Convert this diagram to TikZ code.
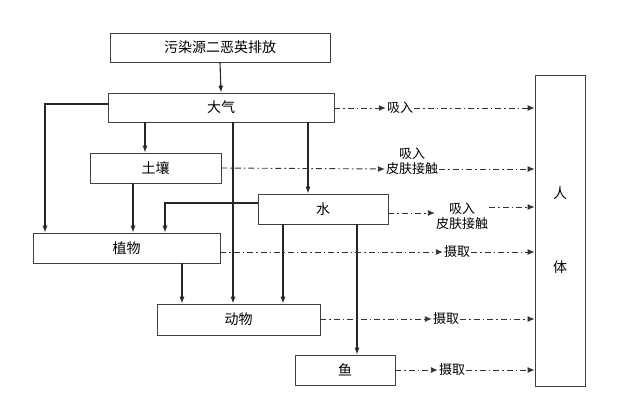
\documentclass[tikz,border=0pt]{standalone}
\usepackage{fontspec}
\newfontfamily\cjk{Noto Sans CJK SC}
\usetikzlibrary{arrows.meta}
\begin{document}
\begin{tikzpicture}[x=1pt,y=-1pt,
  box/.style={draw=black!75,line width=0.8pt,inner sep=0pt,font=\cjk\fontsize{14}{14}\selectfont},
  lab/.style={inner sep=1pt,font=\cjk\fontsize{13}{15}\selectfont,align=center},
  arr/.style={-{Latex[length=7pt,width=5pt]},line width=1.1pt,black!85},
  dd/.style={-{Latex[length=7pt,width=6pt]},dash pattern=on 6pt off 3pt on 1.5pt off 3pt,line width=0.9pt,black!80}]
\useasboundingbox (0,0) rectangle (640,400);
\node[box,minimum width=220,minimum height=29] (src) at (220,47.5) {污染源二恶英排放};
\node[box,minimum width=226,minimum height=29] (air) at (221,107.5) {大气};
\node[box,minimum width=131,minimum height=30] (soil) at (155.5,168) {土壤};
\node[box,minimum width=130,minimum height=30] (water) at (323,209) {水};
\node[box,minimum width=187,minimum height=30] (plant) at (126.5,248) {植物};
\node[box,minimum width=163,minimum height=31] (animal) at (238.5,319.5) {动物};
\node[box,minimum width=100,minimum height=30] (fish) at (345,370) {鱼};
\node[box,minimum width=50,minimum height=311,align=center] (human) at (560,230.5) {人\\[60pt]体};
% solid
\draw[arr] (src.south) -- (air.north);
\draw[arr] (air.west |- 0,104) -| (plant.north -| 45,0);
\draw[arr] (air.south -| 145,0) -- (soil.north -| 145,0);
\draw[arr] (air.south -| 233,0) -- (animal.north -| 233,0);
\draw[arr] (air.south -| 308,0) -- (water.north -| 308,0);
\draw[arr] (soil.south -| 133,0) -- (plant.north -| 133,0);
\draw[arr] (water.west |- 0,203) -| (plant.north -| 165,0);
\draw[arr] (plant.south -| 182,0) -- (animal.north -| 182,0);
\draw[arr] (water.south -| 283,0) -- (animal.north -| 283,0);
\draw[arr] (water.south -| 357,0) -- (fish.north -| 357,0);
% dash-dot
\node[lab] (l1) at (400,108) {吸入};
\draw[dd] (air.east |- l1) -- (l1.west);
\draw[dd] (l1.east) -- (human.west |- l1);
\node[lab] (l2) at (412,161) {吸入\\皮肤接触};
\draw[dd] (soil.east) -- (l2.west |- 0,169);
\draw[dd] (l2.east |- 0,169) -- (human.west |- 0,169);
\node[lab] (l3) at (462,216) {吸入\\皮肤接触};
\draw[dd] (water.east |- 0,213) -- (l3.west |- 0,213);
\draw[dd] (l3.north east |- 0,207) -- (human.west |- 0,207);
\node[lab] (l4) at (457,252) {摄取};
\draw[dd] (plant.east |- l4) -- (l4.west);
\draw[dd] (l4.east) -- (human.west |- l4);
\node[lab] (l5) at (446,319) {摄取};
\draw[dd] (animal.east |- l5) -- (l5.west);
\draw[dd] (l5.east) -- (human.west |- l5);
\node[lab] (l6) at (452,370) {摄取};
\draw[dd] (fish.east |- l6) -- (l6.west);
\draw[dd] (l6.east) -- (human.west |- l6);
\end{tikzpicture}
\end{document}
